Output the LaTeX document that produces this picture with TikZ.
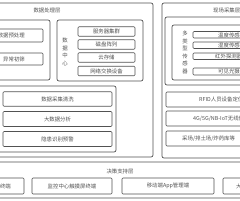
\documentclass[tikz,border=0pt]{standalone}
\usepackage{fontspec}
\setmainfont{Noto Sans CJK SC}
\begin{document}
\begin{tikzpicture}[x=1pt,y=-1pt,
  frame/.style={draw=black!68, line width=0.7pt, rounded corners=2pt},
  item/.style={draw=black!68, line width=0.65pt, rounded corners=1pt, inner sep=0pt, font=\fontsize{5.4}{6}\selectfont, text=black!68},
  lbl/.style={inner sep=0pt, font=\fontsize{5.4}{6}\selectfont, text=black!68},
  vlbl/.style={inner sep=0pt, font=\fontsize{5.4}{7.6}\selectfont, text=black!68, align=center}]
\useasboundingbox (0,0) rectangle (240,200);
\clip (0,0) rectangle (240,200);
\fill[white] (0,0) rectangle (240,200);
% outer layers
\draw[frame] (-60,3) rectangle (153,157);
\draw[frame] (162,3) rectangle (320,158);
\draw[frame] (-60,162) rectangle (320,198);
\node[lbl] (tproc) at (47,10) {数据处理层};
\node[lbl, anchor=west] (tfield) at (213,10) {现场采集层};
\node[lbl] (tdec) at (120,171) {决策支持层};
% data processing layer
\draw[frame] (-60,20) rectangle (50,80);
\draw[item] (-30,29) rectangle (43,42);
\node[lbl, anchor=east] (pre) at (25,35.5) {数据预处理};
\draw[item] (-30,53) rectangle (43,65);
\node[lbl, anchor=east] (abn) at (25,59) {异常初筛};
\draw[frame] (57,20) rectangle (143,81);
\node[vlbl] (dc) at (65,52) {数\\据\\中\\心};
\node[item, minimum width=57pt, minimum height=9.5pt] (srv) at (106.5,31.5) {服务器集群};
\node[item, minimum width=57pt, minimum height=9.5pt] (disk) at (106.5,44.5) {磁盘阵列};
\node[item, minimum width=57pt, minimum height=9.5pt] (cloud) at (106.5,57.5) {云存储};
\node[item, minimum width=57pt, minimum height=9.5pt] (net) at (106.5,71) {网络交换设备};
\draw[frame] (-60,86) rectangle (116,152);
\node[item, minimum width=109pt, minimum height=14.5pt] (clean) at (57.5,99) {数据采集清洗};
\node[item, minimum width=109pt, minimum height=15pt] (bigd) at (57.5,119) {大数据分析};
\node[item, minimum width=109pt, minimum height=15pt] (warn) at (57.5,139) {隐患识别预警};
% field layer
\draw[frame] (165,17) rectangle (320,85);
\draw[frame] (172,25) rectangle (320,80);
\node[vlbl] (sens) at (185,52.5) {多\\类\\型\\传\\感\\器};
\draw[item] (193,31.5) rectangle (320,38);
\node[lbl, anchor=west] (temp) at (218,35) {温度传感器};
\draw[item] (193,42) rectangle (320,48.5);
\node[lbl, anchor=west] (hum) at (218,45.2) {湿度传感器};
\draw[item] (193,53) rectangle (320,59.5);
\node[lbl, anchor=west] (ir) at (215,56.3) {红外探测器};
\draw[item] (193,68) rectangle (320,75);
\node[lbl, anchor=west] (vis) at (218,71.5) {可见光摄像机};
\draw[item] (166,92) rectangle (320,107);
\node[lbl, anchor=west] (rfid) at (199,99.5) {RFID人员设备定位};
\draw[item] (166,111) rectangle (320,126);
\node[lbl, anchor=west] (wl) at (193,118.5) {4G/5G/NB-IoT无线传输};
\draw[item] (166,131) rectangle (320,146);
\node[lbl, anchor=west] (site) at (182,138.5) {采场/排土场/炸药库等};
% decision layer
\draw[item] (-40,178) rectangle (24,194);
\node[lbl, anchor=east] (t1) at (11,186) {终端};
\node[item, minimum width=80pt, minimum height=16pt] (touch) at (72,186) {监控中心触摸屏终端};
\node[item, minimum width=92pt, minimum height=16pt] (app) at (168,186) {移动端App管理端};
\draw[item] (223,178) rectangle (320,194);
\node[lbl, anchor=west] (t4) at (236,186) {大屏};
\end{tikzpicture}
\end{document}
